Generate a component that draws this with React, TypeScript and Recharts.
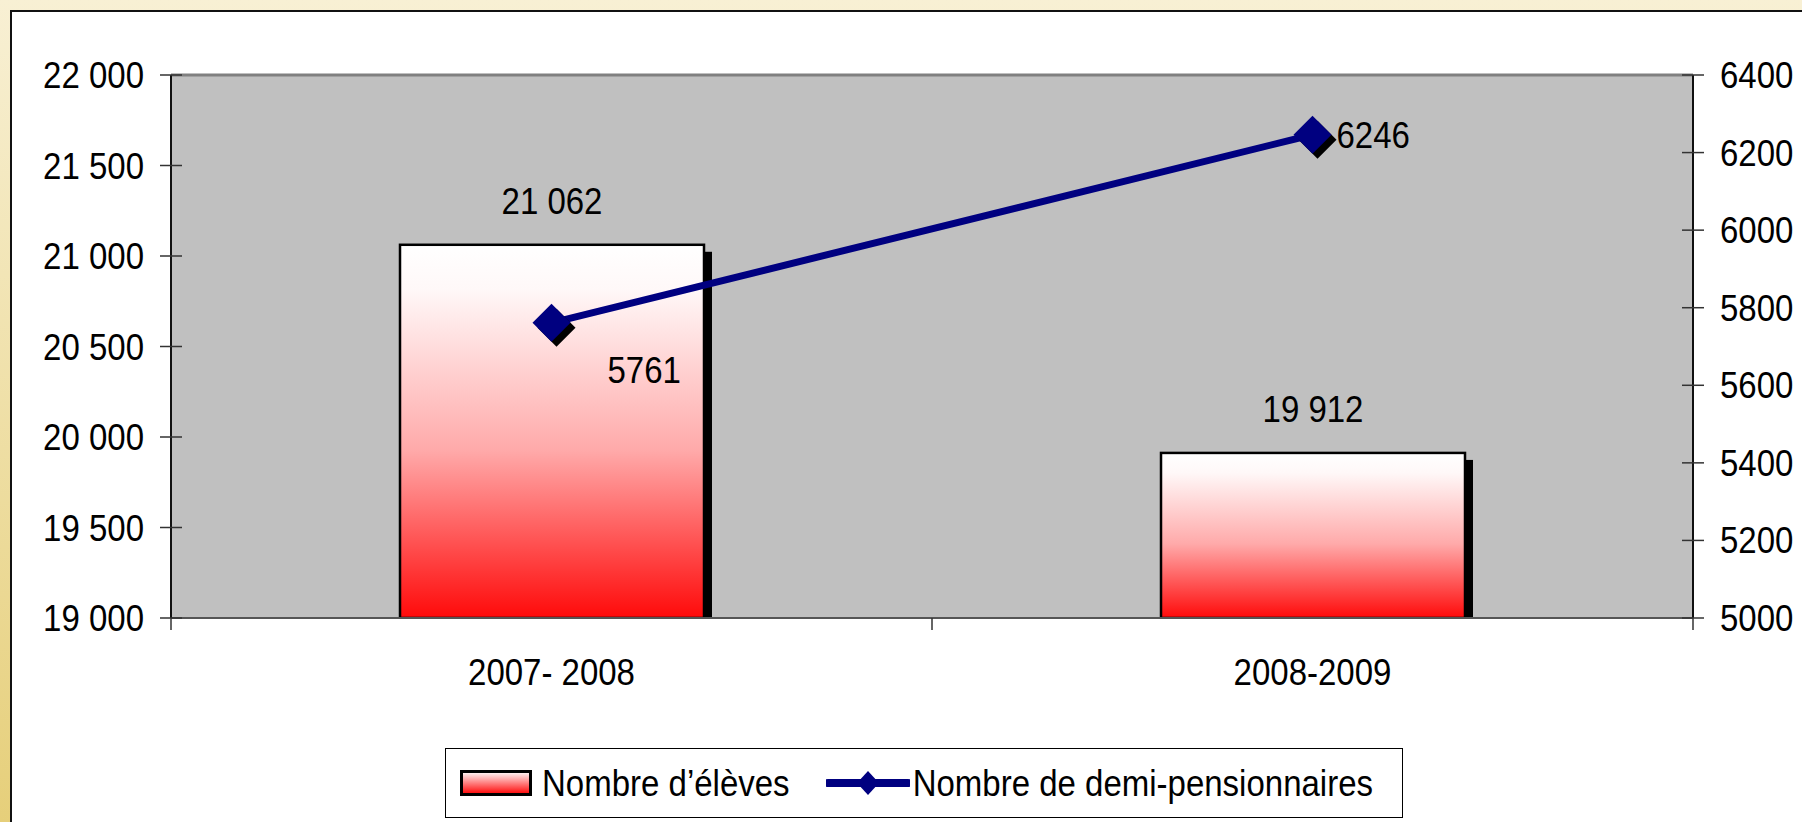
import React from "react";
import {
    ComposedChart,
    Bar,
    Line,
    XAxis,
    YAxis,
    CartesianGrid,
    Legend,
    LabelList,
    ReferenceLine,
} from "recharts";

const years = ["2007- 2008", "2008-2009"];
const eleves = [21062, 19912];
const demiPensionnaires = [5761, 6246];
const leftTicks = [19000, 19500, 20000, 20500, 21000, 21500, 22000];
const rightTicks = [5000, 5200, 5400, 5600, 5800, 6000, 6200, 6400];

const data = years.map((year, i) => ({
    year,
    eleves: eleves[i],
    demi: demiPensionnaires[i],
}));

const FONT = "'Liberation Sans', Arial, sans-serif";
const FS = 33;
const STRETCH = 1.14; // the original text is a bit taller than Arial
const NAVY = "#000080";
const PLOT_LEFT = 171;
const PLOT_RIGHT = 1693;
const BAND = (PLOT_RIGHT - PLOT_LEFT) / years.length;

// Excel placed the two line labels by hand
const lineLabelOffsets = [
    { dx: 56, dy: 59 },
    { dx: 24, dy: 12 },
];

const spaced = (v: number) => String(v).replace(/\B(?=(\d{3})+(?!\d))/g, " ");

function Txt({ x, y, anchor, children }: any) {
    return (
        <text
            transform={`translate(${x},${y}) scale(1,${STRETCH})`}
            textAnchor={anchor}
            fontSize={FS}
            fontFamily={FONT}
            fill="#000"
        >
            {children}
        </text>
    );
}

function BarShape(props: any) {
    const { x, y, width, height } = props;
    if (height <= 0) return null;
    return (
        <g>
            <rect x={x + 8} y={y + 7} width={width} height={height - 7} fill="#000" />
            <rect
                x={x}
                y={y}
                width={width}
                height={height}
                fill="url(#barGrad)"
                stroke="#000"
                strokeWidth={2.5}
            />
        </g>
    );
}

function Diamond(props: any) {
    const { cx, cy } = props;
    if (cx == null || cy == null) return null;
    const r = 19;
    const pts = (ox: number, oy: number) =>
        `${cx + ox},${cy + oy - r} ${cx + ox + r},${cy + oy} ${cx + ox},${cy + oy + r} ${cx + ox - r},${cy + oy}`;
    return (
        <g>
            <polygon points={pts(5, 5)} fill="#000" />
            <polygon points={pts(0, 0)} fill={NAVY} />
        </g>
    );
}

function LeftTick(props: any) {
    const { x, y, payload } = props;
    return (
        <g>
            <line x1={x - 11} x2={x + 11} y1={y} y2={y} stroke="#333" strokeWidth={1.5} />
            <Txt x={x - 27} y={y + 13} anchor="end">
                {spaced(payload.value)}
            </Txt>
        </g>
    );
}

function RightTick(props: any) {
    const { x, y, payload } = props;
    return (
        <g>
            <line x1={x - 11} x2={x + 11} y1={y} y2={y} stroke="#333" strokeWidth={1.5} />
            <Txt x={x + 27} y={y + 13} anchor="start">
                {payload.value}
            </Txt>
        </g>
    );
}

function XTick(props: any) {
    const { x, y, payload, index } = props;
    return (
        <g>
            <line x1={x - BAND / 2} x2={x - BAND / 2} y1={y} y2={y + 12} stroke="#333" strokeWidth={1.5} />
            {index === years.length - 1 && (
                <line x1={x + BAND / 2} x2={x + BAND / 2} y1={y} y2={y + 12} stroke="#333" strokeWidth={1.5} />
            )}
            <Txt x={x} y={y + 67} anchor="middle">
                {payload.value}
            </Txt>
        </g>
    );
}

function BarLabel(props: any) {
    const { x, y, width, value } = props;
    return (
        <Txt x={x + width / 2} y={y - 31} anchor="middle">
            {spaced(value)}
        </Txt>
    );
}

function LineLabel(props: any) {
    const { x, y, value, index } = props;
    const off = lineLabelOffsets[index] || { dx: 0, dy: 0 };
    return (
        <Txt x={x + off.dx} y={y + off.dy + 1} anchor="start">
            {value}
        </Txt>
    );
}

const stretched: React.CSSProperties = {
    display: "inline-block",
    transform: `scaleY(${STRETCH})`,
};

function LegendBox() {
    return (
        <div
            style={{
                boxSizing: "border-box",
                height: 70,
                width: 958,
                border: "1.5px solid #000",
                background: "#fff",
                display: "flex",
                alignItems: "center",
                fontFamily: FONT,
                fontSize: FS,
                color: "#000",
                paddingLeft: 14,
            }}
        >
            <svg width={72} height={26} style={{ marginRight: 10 }}>
                <rect x={1.5} y={1.5} width={69} height={23} fill="url(#legendGrad)" stroke="#000" strokeWidth={3} />
                <defs>
                    <linearGradient id="legendGrad" x1="0" y1="0" x2="0" y2="1">
                        <stop offset="0" stopColor="#ffffff" />
                        <stop offset="1" stopColor="#ff0000" />
                    </linearGradient>
                </defs>
            </svg>
            <span style={stretched}>Nombre d’élèves</span>
            <svg width={84} height={40} style={{ marginLeft: 36, marginRight: 3 }}>
                <line x1={2} x2={82} y1={20} y2={20} stroke={NAVY} strokeWidth={8} strokeLinecap="round" />
                <polygon points="42,8 53,20 42,32 31,20" fill={NAVY} />
            </svg>
            <span style={stretched}>Nombre de demi-pensionnaires</span>
        </div>
    );
}

export default function App() {
    return (
        <div
            style={{
                position: "fixed",
                left: 0,
                top: 0,
                width: 1802,
                height: 822,
                background: "linear-gradient(180deg, #f8f0d4 0%, #e6cf7a 100%)",
                overflow: "hidden",
            }}
        >
            <div
                style={{
                    position: "absolute",
                    left: 10,
                    top: 10,
                    width: 1802,
                    height: 822,
                    background: "#fff",
                    borderLeft: "2px solid #111",
                    borderTop: "2px solid #111",
                }}
            />
            <div style={{ position: "absolute", left: 0, top: 0 }}>
                <ComposedChart
                    width={1802}
                    height={822}
                    data={data}
                    margin={{ top: 75, right: 0, bottom: 74, left: 0 }}
                >
                    <defs>
                        <linearGradient id="barGrad" x1="0" y1="0" x2="0" y2="1">
                            <stop offset="0" stopColor="#ffffff" />
                            <stop offset="0.12" stopColor="#fff8f8" />
                            <stop offset="0.55" stopColor="#ffaaaa" />
                            <stop offset="1" stopColor="#ff0a0a" />
                        </linearGradient>
                    </defs>
                    <CartesianGrid fill="#c0c0c0" horizontal={false} vertical={false} />
                    <XAxis
                        dataKey="year"
                        height={60}
                        tickSize={0}
                        tickMargin={0}
                        tick={<XTick />}
                        axisLine={{ stroke: "#555", strokeWidth: 2 }}
                        interval={0}
                    />
                    <YAxis
                        yAxisId="left"
                        orientation="left"
                        width={171}
                        domain={[19000, 22000]}
                        ticks={leftTicks}
                        tickSize={0}
                        tickMargin={0}
                        tick={<LeftTick />}
                        axisLine={{ stroke: "#111", strokeWidth: 2 }}
                        allowDataOverflow
                    />
                    <YAxis
                        yAxisId="right"
                        orientation="right"
                        width={109}
                        domain={[5000, 6400]}
                        ticks={rightTicks}
                        tickSize={0}
                        tickMargin={0}
                        tick={<RightTick />}
                        axisLine={{ stroke: "#111", strokeWidth: 2 }}
                        allowDataOverflow
                    />
                    <ReferenceLine yAxisId="left" y={22000} stroke="#808080" strokeWidth={3} />
                    <Bar
                        yAxisId="left"
                        dataKey="eleves"
                        name="Nombre d’élèves"
                        barSize={304}
                        shape={<BarShape />}
                        isAnimationActive={false}
                    >
                        <LabelList dataKey="eleves" content={<BarLabel />} />
                    </Bar>
                    <Line
                        yAxisId="right"
                        dataKey="demi"
                        name="Nombre de demi-pensionnaires"
                        stroke={NAVY}
                        strokeWidth={7}
                        dot={<Diamond />}
                        activeDot={false}
                        isAnimationActive={false}
                    >
                        <LabelList dataKey="demi" content={<LineLabel />} />
                    </Line>
                    <Legend
                        verticalAlign="bottom"
                        content={<LegendBox />}
                        wrapperStyle={{ left: 445, top: 748, bottom: "auto", width: 958, height: 70 }}
                    />
                </ComposedChart>
            </div>
        </div>
    );
}
